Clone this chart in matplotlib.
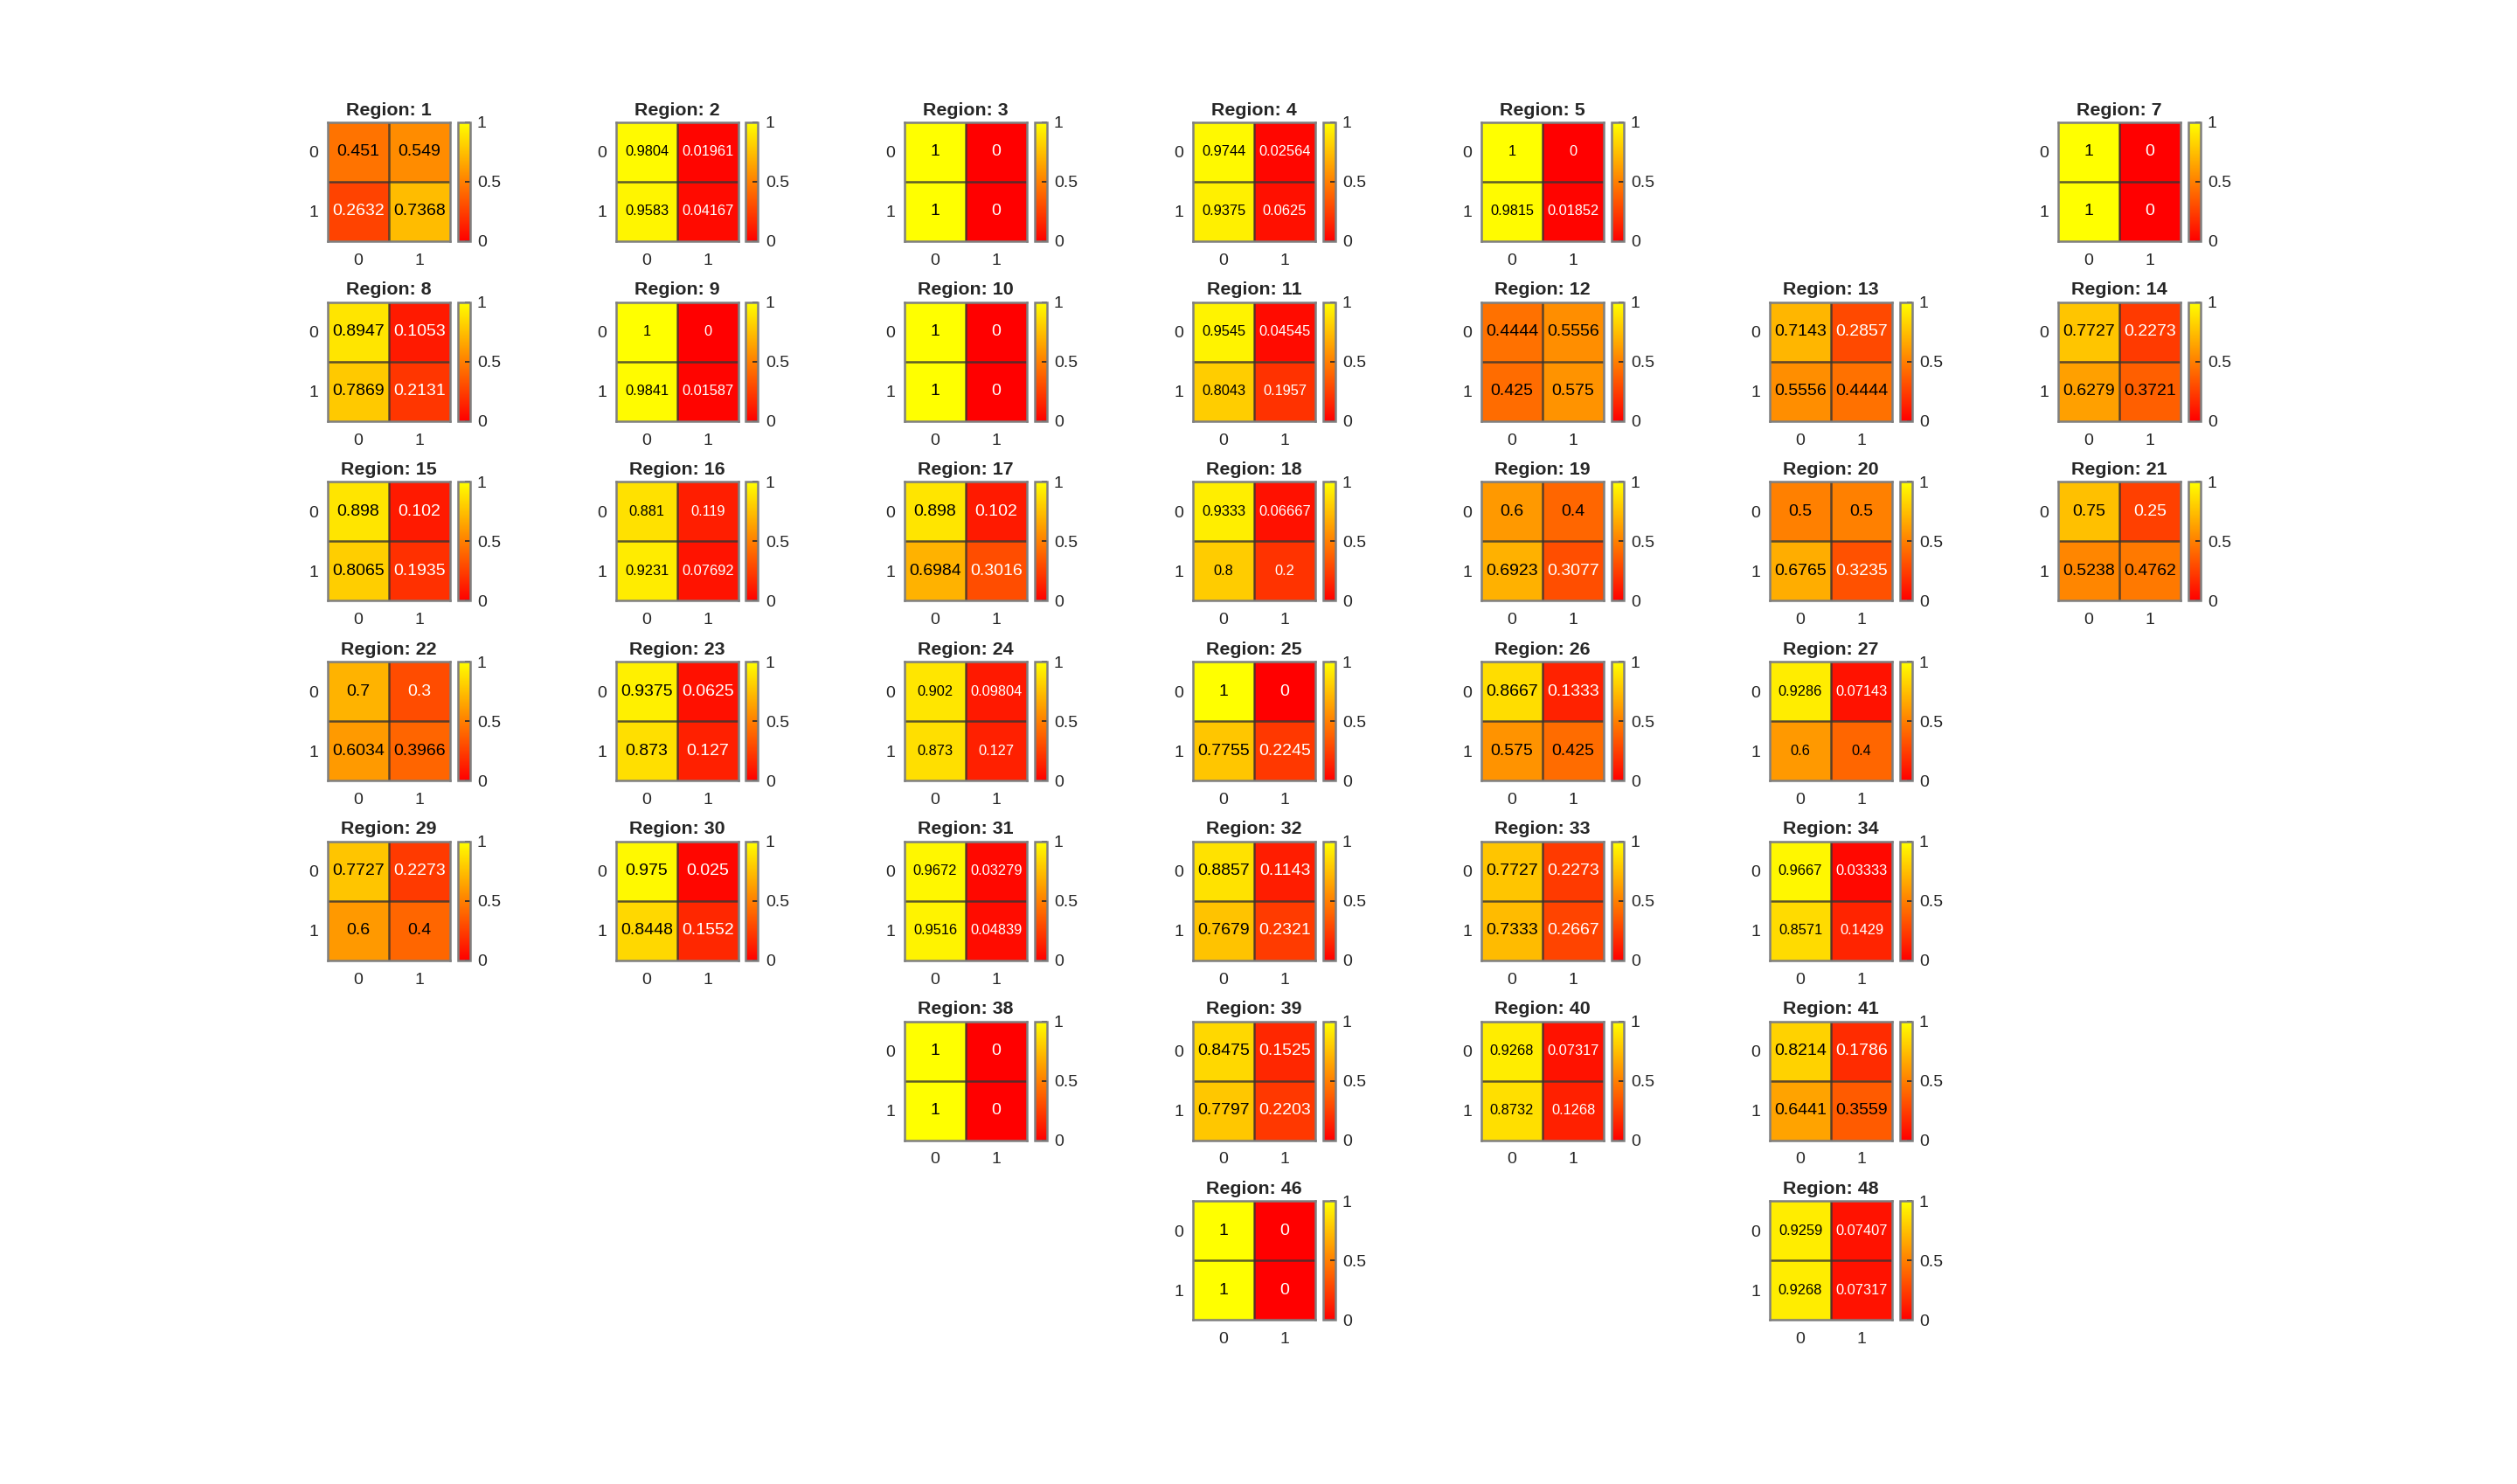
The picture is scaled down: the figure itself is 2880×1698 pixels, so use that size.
import matplotlib

matplotlib.use("Agg")
import matplotlib.pyplot as plt
import numpy as np

plt.rcParams["font.family"] = ["Liberation Sans", "DejaVu Sans"]

# Per-region 2x2 confusion proportions (rows: true 0/1, cols: predicted 0/1).
REGION_IDS = [1, 2, 3, 4, 5, 7,
              8, 9, 10, 11, 12, 13, 14,
              15, 16, 17, 18, 19, 20, 21,
              22, 23, 24, 25, 26, 27,
              29, 30, 31, 32, 33, 34,
              38, 39, 40, 41,
              46, 48]
ROW0_COL0 = [0.451, 0.9804, 1, 0.9744, 1, 1,
             0.8947, 1, 1, 0.9545, 0.4444, 0.7143, 0.7727,
             0.898, 0.881, 0.898, 0.9333, 0.6, 0.5, 0.75,
             0.7, 0.9375, 0.902, 1, 0.8667, 0.9286,
             0.7727, 0.975, 0.9672, 0.8857, 0.7727, 0.9667,
             1, 0.8475, 0.9268, 0.8214,
             1, 0.9259]
ROW0_COL1 = [0.549, 0.01961, 0, 0.02564, 0, 0,
             0.1053, 0, 0, 0.04545, 0.5556, 0.2857, 0.2273,
             0.102, 0.119, 0.102, 0.06667, 0.4, 0.5, 0.25,
             0.3, 0.0625, 0.09804, 0, 0.1333, 0.07143,
             0.2273, 0.025, 0.03279, 0.1143, 0.2273, 0.03333,
             0, 0.1525, 0.07317, 0.1786,
             0, 0.07407]
ROW1_COL0 = [0.2632, 0.9583, 1, 0.9375, 0.9815, 1,
             0.7869, 0.9841, 1, 0.8043, 0.425, 0.5556, 0.6279,
             0.8065, 0.9231, 0.6984, 0.8, 0.6923, 0.6765, 0.5238,
             0.6034, 0.873, 0.873, 0.7755, 0.575, 0.6,
             0.6, 0.8448, 0.9516, 0.7679, 0.7333, 0.8571,
             1, 0.7797, 0.8732, 0.6441,
             1, 0.9268]
ROW1_COL1 = [0.7368, 0.04167, 0, 0.0625, 0.01852, 0,
             0.2131, 0.01587, 0, 0.1957, 0.575, 0.4444, 0.3721,
             0.1935, 0.07692, 0.3016, 0.2, 0.3077, 0.3235, 0.4762,
             0.3966, 0.127, 0.127, 0.2245, 0.425, 0.4,
             0.4, 0.1552, 0.04839, 0.2321, 0.2667, 0.1429,
             0, 0.2203, 0.1268, 0.3559,
             0, 0.07317]
CLASS_LABELS = ["0", "1"]
CBAR_TICKS = [0, 0.5, 1]

# Layout in output pixels (MATLAB-style 7-column subplot grid).
FIG_W, FIG_H, DPI = 2880, 1698, 200
N_COLS = 7
LEFT0, COL_STEP = 375.0, 330.0
TOP0, ROW_STEP = 140.0, 205.7
HM_W, HM_H = 140.0, 136.0
CB_OFF, CB_W = 148.5, 14.0
TEXT_DARK = "#262626"


def _frac(x, top, w, h):
    return [x / FIG_W, 1 - (top + h) / FIG_H, w / FIG_W, h / FIG_H]


def draw_region(fig, rid, values):
    row, col = (rid - 1) // N_COLS, (rid - 1) % N_COLS
    x = LEFT0 + col * COL_STEP
    top = TOP0 + row * ROW_STEP
    ax = fig.add_axes(_frac(x, top, HM_W, HM_H))
    im = ax.imshow(values, cmap="autumn", vmin=0, vmax=1, aspect="auto",
                   interpolation="nearest")
    ax.axhline(0.5, color="#333333", lw=0.9, alpha=0.8)
    ax.axvline(0.5, color="#333333", lw=0.9, alpha=0.8)
    for sp in ax.spines.values():
        sp.set_color("#7f7f7f")
        sp.set_linewidth(0.9)
    ax.set_xticks([0, 1])
    ax.set_yticks([0, 1])
    ax.set_xticklabels(CLASS_LABELS)
    ax.set_yticklabels(CLASS_LABELS)
    ax.tick_params(length=0, labelsize=7.0, labelcolor=TEXT_DARK)
    ax.tick_params(axis="x", pad=5)
    ax.tick_params(axis="y", pad=4)
    ax.set_title(f"Region: {rid}", fontsize=7.7, fontweight="bold",
                 color=TEXT_DARK, pad=3)

    labels = [[f"{v:.4g}" for v in r] for r in values]
    longest = max(len(s) for r in labels for s in r)
    fsize = 7.0 if longest <= 6 else 5.9
    for i in range(2):
        for j in range(2):
            v = values[i, j]
            lum = 0.299 + 0.587 * v
            ax.text(j, i, labels[i][j], ha="center", va="center",
                    fontsize=fsize, color="white" if lum < 0.5 else "black")

    cax = fig.add_axes(_frac(x + CB_OFF, top, CB_W, HM_H))
    cb = fig.colorbar(im, cax=cax, ticks=CBAR_TICKS)
    cb.ax.set_yticklabels(["0", "0.5", "1"])
    cb.ax.tick_params(direction="in", length=2, width=0.6, color="#262626",
                      labelsize=7.0, labelcolor=TEXT_DARK, pad=3)
    cb.outline.set_edgecolor("#7f7f7f")
    cb.outline.set_linewidth(0.9)


def main():
    fig = plt.figure(figsize=(FIG_W / DPI, FIG_H / DPI), dpi=DPI)
    for k, rid in enumerate(REGION_IDS):
        values = np.array([[ROW0_COL0[k], ROW0_COL1[k]],
                           [ROW1_COL0[k], ROW1_COL1[k]]])
        draw_region(fig, rid, values)
    fig.savefig("out.png", dpi=DPI, facecolor="white")
    plt.close(fig)


if __name__ == "__main__":
    main()
